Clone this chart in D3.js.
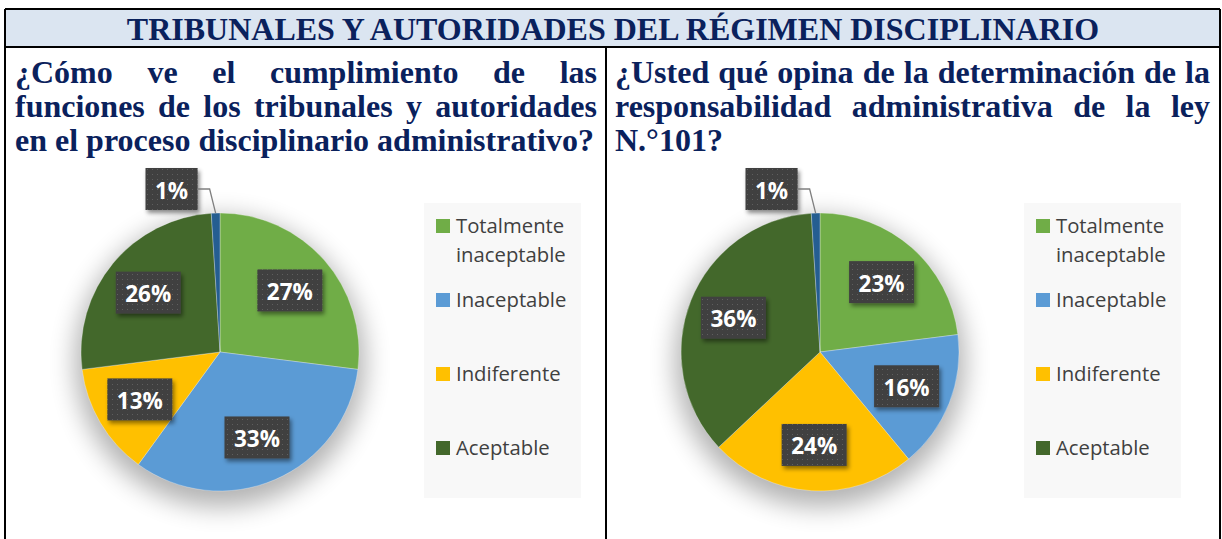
<!DOCTYPE html>
<html><head><meta charset="utf-8">
<script src="https://cdn.jsdelivr.net/npm/d3@7/dist/d3.min.js"></script>
<style>body{margin:0;background:#fff}svg{display:block}</style>
</head><body><svg id="c" width="1222" height="539"></svg>
<script>
const title = "TRIBUNALES Y AUTORIDADES DEL RÉGIMEN DISCIPLINARIO";
const question1 = ["¿Cómo ve el cumplimiento de las", "funciones de los tribunales y autoridades", "en el proceso disciplinario administrativo?"];
const question2 = ["¿Usted qué opina de la determinación de la", "responsabilidad administrativa de la ley", "N.°101?"];
const categories = ["Totalmente inaceptable", "Inaceptable", "Indiferente", "Aceptable", "Totalmente aceptable"];
const legendLabels = ["Totalmente inaceptable", "Inaceptable", "Indiferente", "Aceptable"];
const values1 = [27, 33, 13, 26, 1];
const values2 = [23, 16, 24, 36, 1];
const colors = ["#70ad47", "#5b9bd5", "#ffc000", "#43682b", "#255e91"];

const svg = d3.select("#c");
const navy = "#0a215c";
const defs = svg.append("defs");
const pat = defs.append("pattern").attr("id","dots").attr("patternUnits","userSpaceOnUse").attr("width",5).attr("height",5);
pat.append("rect").attr("width",5).attr("height",5).attr("fill","#404040");
pat.append("rect").attr("x",2).attr("y",2).attr("width",1).attr("height",1).attr("fill","#5e5e5e");
const fs = defs.append("filter").attr("id","boxsh").attr("x","-30%").attr("y","-30%").attr("width","160%").attr("height","160%");
fs.append("feDropShadow").attr("dx",2).attr("dy",3).attr("stdDeviation",2).attr("flood-color","#000").attr("flood-opacity",0.45);
const fp = defs.append("filter").attr("id","piesh").attr("x","-50%").attr("y","-50%").attr("width","200%").attr("height","200%");
fp.append("feGaussianBlur").attr("stdDeviation",13);

// table frame
svg.append("rect").attr("x",6).attr("y",10).attr("width",1213).attr("height",36).attr("fill","#dbe5f1");
const lines = [[5,9,1220,9],[5,47,1220,47],[5,9,5,545],[1220,9,1220,545],[606,47,606,545]];
svg.selectAll("line.frame").data(lines).join("line").attr("class","frame")
  .attr("x1",d=>d[0]).attr("y1",d=>d[1]).attr("x2",d=>d[2]).attr("y2",d=>d[3])
  .attr("stroke","#000").attr("stroke-width",2);

svg.append("text").attr("x",613).attr("y",40).attr("text-anchor","middle")
  .attr("font-family","Liberation Serif, Times New Roman, serif").attr("font-weight","bold")
  .attr("font-size",32).attr("fill",navy).text(title);

function paragraph(linesArr, x0, width, y0, lh) {
  linesArr.forEach((ln, i) => {
    const words = ln.split(" ");
    const g = svg.append("g");
    const ts = words.map(w => g.append("text").attr("y", y0 + i*lh)
      .attr("font-family","Liberation Serif, Times New Roman, serif").attr("font-weight","bold")
      .attr("font-size",32).attr("fill",navy).text(w));
    const ws = ts.map(t => t.node().getComputedTextLength());
    const justify = i < linesArr.length - 1 && words.length > 1;
    const space = justify ? (width - d3.sum(ws)) / (words.length - 1) : 8;
    let x = x0;
    ts.forEach((t, k) => { t.attr("x", x); x += ws[k] + space; });
  });
}
paragraph(question1, 15, 582, 83, 34);
paragraph(question2, 615, 595, 83, 34);

function drawPie(values, cx, cy, lx) {
  const r = 139;
  const g = svg.append("g").attr("transform", `translate(${cx},${cy})`);
  g.append("circle").attr("cx",0).attr("cy",10).attr("r",r+6).attr("fill","#000").attr("opacity",0.3).attr("filter","url(#piesh)");
  const pie = d3.pie().sort(null).value(d => d)(values);
  const arc = d3.arc().innerRadius(0).outerRadius(r);
  g.selectAll("path").data(pie).join("path").attr("d", arc).attr("fill", (d,i) => colors[i])
    .attr("stroke","#ffffff").attr("stroke-opacity",0.5).attr("stroke-width",0.6);
  const labelArc = d3.arc().innerRadius(r*0.67).outerRadius(r*0.67);
  const outerArc = d3.arc().innerRadius(r).outerRadius(r);
  pie.forEach((d, i) => {
    const txt = values[i] + "%";
    let cxl, cyl;
    const lg = g.append("g");
    const t = lg.append("text").attr("text-anchor","middle").attr("dominant-baseline","central")
      .attr("font-family","Open Sans, sans-serif").attr("font-weight","bold").attr("font-size",22.5)
      .attr("fill","#fff").text(txt);
    const tw = t.node().getComputedTextLength();
    const bw = tw + 19, bh = 42;
    if (values[i] <= 2) {
      const p = outerArc.centroid(d);
      const elbow = [p[0] - 6, -r - 24];
      cxl = elbow[0] - 12 - bw/2; cyl = elbow[1];
      lg.append("polyline").attr("points", [[cxl + bw/2, elbow[1]], elbow, p].map(q => q.join(",")).join(" "))
        .attr("fill","none").attr("stroke","#7f7f7f").attr("stroke-width",1.3);
    } else {
      [cxl, cyl] = labelArc.centroid(d);
    }
    lg.insert("rect","text").attr("x", cxl - bw/2).attr("y", cyl - bh/2).attr("width", bw).attr("height", bh)
      .attr("fill","url(#dots)").attr("filter","url(#boxsh)");
    t.attr("x", cxl).attr("y", cyl + 1);
  });
  // legend
  const lgd = svg.append("g").attr("transform", `translate(${lx},203)`);
  lgd.append("rect").attr("width",157).attr("height",295).attr("fill","#f8f8f8");
  legendLabels.forEach((lab, i) => {
    const yc = 23 + 74*i;
    lgd.append("rect").attr("x",12).attr("y",yc-7).attr("width",14).attr("height",14).attr("fill",colors[i]);
    const words = lab.split(" ");
    words.forEach((w, k) => {
      lgd.append("text").attr("x",32).attr("y", yc + 7 + k*29)
        .attr("font-family","Open Sans, sans-serif").attr("font-size",20.3).attr("fill","#404040").text(w);
    });
  });
}
drawPie(values1, 220, 352, 424);
drawPie(values2, 820, 352, 1024);
</script></body></html>
